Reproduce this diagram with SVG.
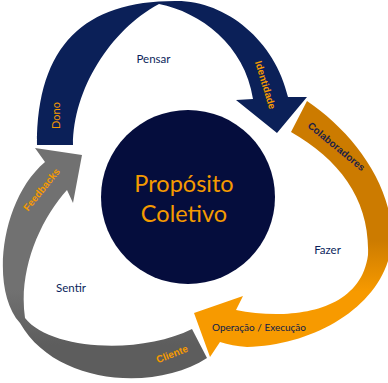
<svg xmlns="http://www.w3.org/2000/svg" width="388" height="383" viewBox="0 0 388 383">
  <defs>
    <linearGradient id="gOrange" gradientUnits="userSpaceOnUse" x1="0" y1="240" x2="0" y2="292">
      <stop offset="0" stop-color="#cc7b00"/>
      <stop offset="1" stop-color="#f79a00"/>
    </linearGradient>
    <linearGradient id="gGray" gradientUnits="userSpaceOnUse" x1="0" y1="290" x2="0" y2="345">
      <stop offset="0" stop-color="#717171"/>
      <stop offset="1" stop-color="#5d5d5d"/>
    </linearGradient>
  </defs>
  <style>
    .stage { font-family: Lato, "Liberation Sans", sans-serif; font-size: 11.5px; fill: #0c1f5c; text-anchor: middle; }
    .arrowlbl { font-family: "Liberation Sans", Arial, sans-serif; font-size: 10px; font-weight: bold; text-anchor: middle; }
    .orange { fill: #f59a00; }
    .dark { fill: #1c2146; }
  </style>

  <g id="connectors">
    <g id="arrow-pensar">
      <path fill="#0b2058" d="M37,145 C37,45 85,1 175,1 C225,0 275,40 288,97 L307,97 L277,133 L236,100 L253,99 C245,45 200,12 159,4 C110,30 73,90 73,145 Z"/>
      <text class="arrowlbl orange" transform="translate(265.5,85) rotate(73)" dy="0.35em">Identidade</text>
      <text transform="translate(60,115.5) rotate(-90)" text-anchor="middle" font-family="Lato, 'Liberation Sans', sans-serif" font-size="11" fill="#f59a00">Dono</text>
    </g>
    <g id="arrow-fazer">
      <path fill="url(#gOrange)" d="M307,101 C350,130 390,180 392,235 C392,300 320,345 247,347 Q232,346 220,342 L210,357 L194,313 L243,296 L236,310 C285,320 360,315 368,255 C370,200 340,160 291,132 Z"/>
      <text class="arrowlbl dark" transform="translate(336.5,146.5) rotate(39.5)" dy="0.35em">Colaboradores</text>
      <text x="212" y="331" font-family="Lato, 'Liberation Sans', sans-serif" font-size="10" fill="#0c1a4a">Operação / Execução</text>
    </g>
    <g id="arrow-sentir">
      <path fill="url(#gGray)" d="M207,358 C155,392 55,385 20,323 C-10,290 0,200 45,162 L35,148 L82,155 L73,203 L67,190 C40,220 18,270 25,318 C50,350 140,355 192,329 Z"/>
      <text class="arrowlbl orange" transform="translate(41.5,189.5) rotate(-51)" dy="0.35em">Feedbacks</text>
      <text class="arrowlbl orange" transform="translate(172,354) rotate(-21)" dy="0.35em">Cliente</text>
    </g>
  </g>

  <g id="node-proposito">
    <circle cx="188" cy="197" r="87" fill="#050d3d"/>
    <text x="184" y="192" text-anchor="middle" font-family="Lato, 'Liberation Sans', sans-serif" font-size="23.5" fill="#f59a00">Propósito</text>
    <text x="184" y="222" text-anchor="middle" font-family="Lato, 'Liberation Sans', sans-serif" font-size="23.5" fill="#f59a00">Coletivo</text>
  </g>
  <g id="node-pensar">
    <text class="stage" x="153.5" y="63">Pensar</text>
  </g>
  <g id="node-fazer">
    <text class="stage" x="327.5" y="254">Fazer</text>
  </g>
  <g id="node-sentir">
    <text class="stage" x="71" y="292">Sentir</text>
  </g>
</svg>
